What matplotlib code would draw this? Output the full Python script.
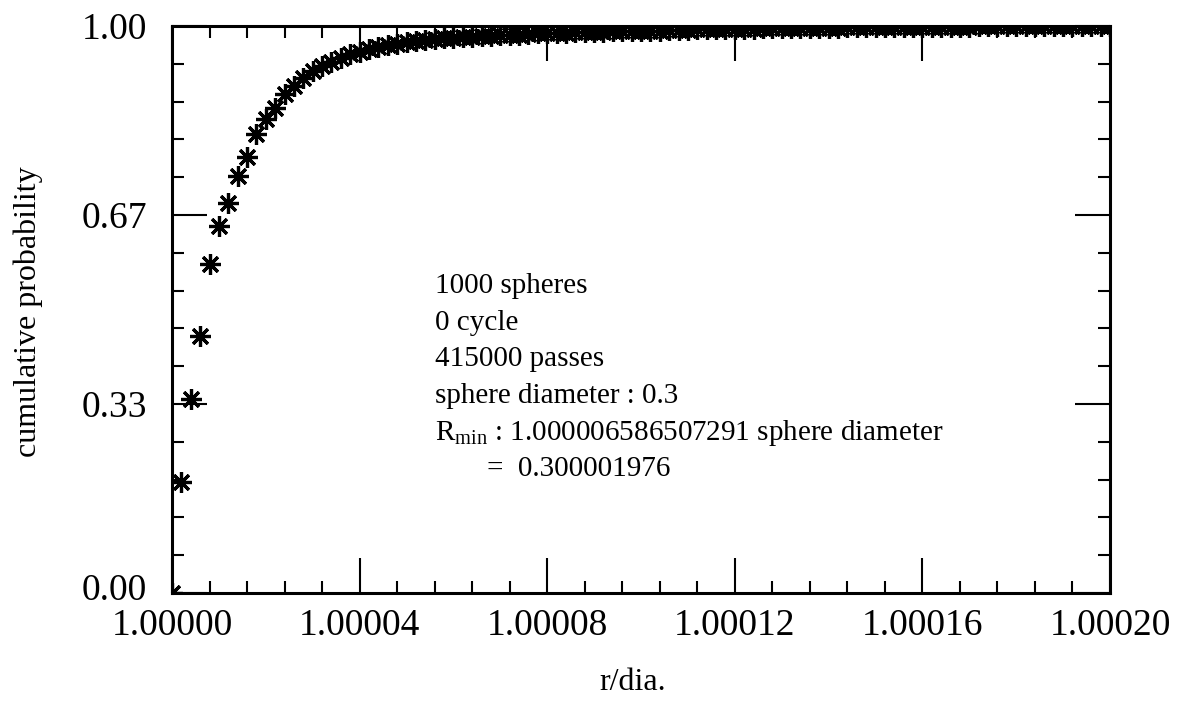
import matplotlib
matplotlib.use("Agg")
import matplotlib.pyplot as plt
import matplotlib.transforms as mtransforms
from matplotlib.ticker import FixedLocator, FixedFormatter, MultipleLocator

plt.rcParams['font.family'] = ['Liberation Serif', 'DejaVu Serif']
plt.rcParams['mathtext.fontset'] = 'custom'
plt.rcParams['mathtext.rm'] = 'Liberation Serif'
plt.rcParams['mathtext.it'] = 'Liberation Serif:italic'

# ---- data ----
# r/dia. offsets from 1, in units of 1e-6
r_offset_1e6 = [0, 2, 4, 6, 8, 10, 12, 14, 16, 18, 20, 22, 24, 26, 28, 30, 32, 34, 36, 38,
                40, 42, 44, 46, 48, 50, 52, 54, 56, 58, 60, 62, 64, 66, 68, 70, 72, 74, 76, 78,
                80, 82, 84, 86, 88, 90, 92, 94, 96, 98, 100, 102, 104, 106, 108, 110, 112, 114, 116, 118,
                120, 122, 124, 126, 128, 130, 132, 134, 136, 138, 140, 142, 144, 146, 148, 150, 152, 154, 156, 158,
                160, 162, 164, 166, 168, 170, 172, 174, 176, 178, 180, 182, 184, 186, 188, 190, 192, 194, 196, 198, 200]
cum_prob = [0.000, 0.195, 0.342, 0.454, 0.581, 0.648, 0.688, 0.736, 0.769, 0.810,
            0.836, 0.855, 0.880, 0.895, 0.909, 0.920, 0.929, 0.937, 0.944, 0.950,
            0.955, 0.959, 0.963, 0.966, 0.969, 0.971, 0.973, 0.975, 0.977, 0.978,
            0.979, 0.980, 0.981, 0.982, 0.983, 0.984, 0.985, 0.985, 0.986, 0.987,
            0.987, 0.988, 0.988, 0.989, 0.989, 0.990, 0.990, 0.991, 0.991, 0.991,
            0.992, 0.992, 0.992, 0.993, 0.993, 0.993, 0.994, 0.994, 0.994, 0.995,
            0.995, 0.995, 0.995, 0.996, 0.996, 0.996, 0.996, 0.997, 0.997, 0.997,
            0.997, 0.997, 0.998, 0.998, 0.998, 0.998, 0.998, 0.998, 0.999, 0.999,
            0.999, 0.999, 0.999, 0.999, 0.999, 0.999, 1.000, 1.000, 1.000, 1.000,
            1.000, 1.000, 1.000, 1.000, 1.000, 1.000, 1.000, 1.000, 1.000, 1.000, 1.000]

x_ticks = [1.00000, 1.00004, 1.00008, 1.00012, 1.00016, 1.00020]
x_tick_labels = ['1.00000', '1.00004', '1.00008', '1.00012', '1.00016', '1.00020']
y_ticks = [0.0, 1/3, 2/3, 1.0]
y_tick_labels = ['0.00', '0.33', '0.67', '1.00']

info_lines = ['1000 spheres', '0 cycle', '415000 passes', 'sphere diameter : 0.3',
              r'R$_{\rm min}$ : 1.000006586507291 sphere diameter']
info_last = '=  0.300001976'

x_vals = [1.0 + v * 1e-6 for v in r_offset_1e6]

W, H = 1184, 712
fig = plt.figure(figsize=(W / 100, H / 100), dpi=100)
ax = fig.add_axes([172 / W, 1 - 593 / H, (1110 - 172) / W, (593 - 26) / H])

ax.plot(x_vals, cum_prob, linestyle='none', marker=(8, 2, 0), markersize=15,
        markeredgewidth=2.3, color='black', clip_on=True)

ax.set_xlim(1.0, 1.0002)
ax.set_ylim(0.0, 1.0)
ax.xaxis.set_major_locator(FixedLocator(x_ticks))
ax.xaxis.set_major_formatter(FixedFormatter(x_tick_labels))
ax.xaxis.set_minor_locator(MultipleLocator(0.000008))
ax.yaxis.set_major_locator(FixedLocator(y_ticks))
ax.yaxis.set_major_formatter(FixedFormatter(y_tick_labels))
ax.yaxis.set_minor_locator(MultipleLocator(1 / 15))

for s in ax.spines.values():
    s.set_linewidth(2.2)
ax.tick_params(which='both', direction='in', top=True, right=True, width=1.5, colors='black')
ax.tick_params(which='major', length=25)
ax.tick_params(which='minor', length=8.5)
ax.tick_params(axis='x', which='major', labelsize=27, pad=11)
ax.tick_params(axis='y', which='major', labelsize=27, pad=18)

# raise the "0.00" label slightly, as in the reference
fig.canvas.draw()
first_ylabel = ax.get_yticklabels()[0]
first_ylabel.set_transform(first_ylabel.get_transform() +
                           mtransforms.ScaledTranslation(0, 6 / 100, fig.dpi_scale_trans))

fig.text(633 / W, 1 - 690 / H, 'r/dia.', fontsize=23, ha='center', va='baseline')
fig.text(28 / W, 1 - 312 / H, 'cumulative probability', fontsize=23, rotation=90,
         ha='center', va='center')

baselines = [293, 330, 366, 403, 440]
for txt, yb in zip(info_lines, baselines):
    fig.text(435 / W, 1 - yb / H, txt, fontsize=21, ha='left', va='baseline')
fig.text(487 / W, 1 - 476 / H, info_last, fontsize=21, ha='left', va='baseline')

fig.savefig('out.png', dpi=100)
